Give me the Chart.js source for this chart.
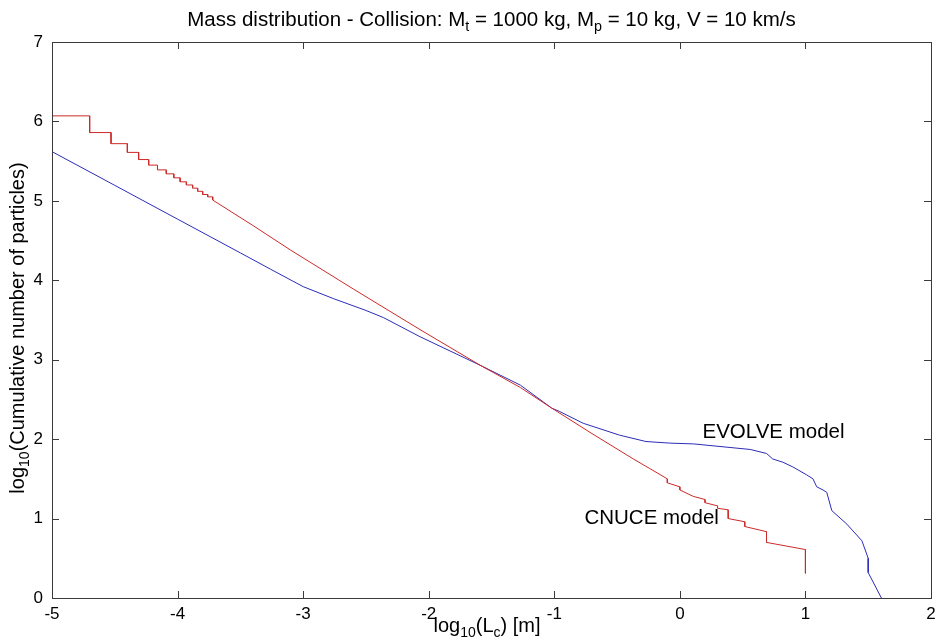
<!DOCTYPE html>
<html>
<head>
<meta charset="utf-8">
<script src="https://cdn.jsdelivr.net/npm/chart.js@4.4.0/dist/chart.umd.min.js"></script>
<style>
  html, body { margin: 0; padding: 0; background: #fff; }
  #wrap { width: 936px; height: 644px; }
</style>
</head>
<body>
<div id="wrap"><canvas id="massChart" width="936" height="644"></canvas></div>
<script>
// CNUCE model (red), corner points of the staircase
const cnuceX = [-5, -4.70, -4.70, -4.53, -4.53, -4.40, -4.40, -4.31, -4.31, -4.23, -4.23, -4.16, -4.16,
  -4.09, -4.09, -4.03, -4.03, -3.98, -3.98, -3.93, -3.93, -3.88, -3.88, -3.84, -3.84, -3.80, -3.80,
  -3.76, -3.76, -3.72, -3.72, -3.40, -3.10, -2.60, -2.07, -1.59, -1.27, -1.02, -0.70, -0.37, -0.24,
  -0.10, -0.10, 0.00, 0.00, 0.106, 0.20, 0.20, 0.30, 0.30, 0.385, 0.385, 0.517, 0.517, 0.69, 0.69, 1.00, 1.00];
const cnuceY = [6.07, 6.07, 5.86, 5.86, 5.72, 5.72, 5.61, 5.61, 5.52, 5.52, 5.45, 5.45, 5.39,
  5.39, 5.34, 5.34, 5.29, 5.29, 5.24, 5.24, 5.20, 5.20, 5.16, 5.16, 5.12, 5.12, 5.08,
  5.08, 5.05, 5.05, 5.01, 4.69, 4.38, 3.89, 3.38, 2.93, 2.65, 2.39, 2.07, 1.75, 1.63,
  1.50, 1.45, 1.40, 1.36, 1.28, 1.24, 1.20, 1.16, 1.13, 1.11, 1.00, 0.96, 0.90, 0.835, 0.70, 0.61, 0.31];

// EVOLVE model (blue)
const evolveX = [-5, -4.5, -4, -3.5, -3.26, -3.0, -2.76, -2.5, -2.36, -2.07, -1.83, -1.59, -1.27,
  -1.02, -0.96, -0.77, -0.48, -0.27, -0.08, 0.11, 0.56, 0.69, 0.74, 0.82, 0.90, 1.01, 1.06, 1.09,
  1.14, 1.17, 1.21, 1.33, 1.45, 1.50, 1.50, 1.605];
const evolveY = [5.62, 5.195, 4.77, 4.345, 4.14, 3.92, 3.77, 3.62, 3.53, 3.29, 3.11, 2.93, 2.68,
  2.39, 2.35, 2.20, 2.05, 1.97, 1.95, 1.94, 1.87, 1.82, 1.75, 1.71, 1.65, 1.55, 1.50, 1.40,
  1.36, 1.33, 1.10, 0.93, 0.72, 0.50, 0.32, 0.0];

const xRange = [-5, 2];
const yRange = [0, 7];

// text labels inside the axes (data coordinates of left edge / middle)
const modelLabels = [
  { text: 'EVOLVE model', x: 0.18, y: 2.09 },
  { text: 'CNUCE model', x: -0.76, y: 1.0 },
];

const FONT = '"Liberation Sans", Arial, Helvetica, sans-serif';

function toPoints(xs, ys) {
  return xs.map((v, i) => ({ x: v, y: ys[i] }));
}

// draws a list of segments, some of them as subscripts
function richWidth(ctx, parts, size) {
  let w = 0;
  parts.forEach(p => {
    ctx.font = (p.sub ? size * 0.7 : size) + 'px ' + FONT;
    w += ctx.measureText(p.t).width;
  });
  return w;
}
function drawRich(ctx, parts, cx, cy, size) {
  let x = cx - richWidth(ctx, parts, size) / 2;
  ctx.textBaseline = 'middle';
  ctx.textAlign = 'left';
  parts.forEach(p => {
    ctx.font = (p.sub ? size * 0.7 : size) + 'px ' + FONT;
    ctx.fillText(p.t, x, p.sub ? cy + size * 0.35 : cy);
    x += ctx.measureText(p.t).width;
  });
}

const framePlugin = {
  id: 'matlabFrame',
  afterDraw(chart) {
    const { ctx, chartArea: a, scales } = chart;
    const xs = scales.x, ys = scales.y;
    ctx.save();
    ctx.strokeStyle = '#3a3a3a';
    ctx.lineWidth = 1;
    ctx.strokeRect(Math.round(a.left) + 0.5, Math.round(a.top) + 0.5,
      Math.round(a.right - a.left), Math.round(a.bottom - a.top));

    // inward ticks on all four sides
    const tl = 7;
    ctx.beginPath();
    xs.ticks.forEach(t => {
      const px = Math.round(xs.getPixelForValue(t.value)) + 0.5;
      ctx.moveTo(px, a.bottom); ctx.lineTo(px, a.bottom - tl);
      ctx.moveTo(px, a.top); ctx.lineTo(px, a.top + tl);
    });
    ys.ticks.forEach(t => {
      const py = Math.round(ys.getPixelForValue(t.value)) + 0.5;
      ctx.moveTo(a.left, py); ctx.lineTo(a.left + tl, py);
      ctx.moveTo(a.right, py); ctx.lineTo(a.right - tl, py);
    });
    ctx.stroke();

    ctx.fillStyle = '#000';
    // title
    drawRich(ctx, [
      { t: 'Mass distribution - Collision: M' }, { t: 't', sub: true },
      { t: ' = 1000 kg, M' }, { t: 'p', sub: true }, { t: ' = 10 kg, V = 10 km/s' }
    ], (a.left + a.right) / 2, 20, 20.5);

    // x axis title
    drawRich(ctx, [
      { t: 'log' }, { t: '10', sub: true }, { t: '(L' }, { t: 'c', sub: true }, { t: ') [m]' }
    ], 487, 626, 20);

    // y axis title
    ctx.save();
    ctx.translate(18, 328);
    ctx.rotate(-Math.PI / 2);
    drawRich(ctx, [
      { t: 'log' }, { t: '10', sub: true }, { t: '(Cumulative number of particles)' }
    ], 0, 0, 20);
    ctx.restore();

    // model labels
    ctx.font = '20.5px ' + FONT;
    ctx.textAlign = 'left';
    ctx.textBaseline = 'middle';
    modelLabels.forEach(l => {
      ctx.fillText(l.text, xs.getPixelForValue(l.x), ys.getPixelForValue(l.y));
    });
    ctx.restore();
  }
};

new Chart(document.getElementById('massChart'), {
  type: 'scatter',
  data: {
    datasets: [
      {
        label: 'CNUCE model',
        data: toPoints(cnuceX, cnuceY),
        showLine: true,
        borderColor: '#cc2a2a',
        borderWidth: 1,
        pointRadius: 0,
        tension: 0,
      },
      {
        label: 'EVOLVE model',
        data: toPoints(evolveX, evolveY),
        showLine: true,
        borderColor: '#2c2cb8',
        borderWidth: 1,
        pointRadius: 0,
        tension: 0,
      },
    ],
  },
  options: {
    responsive: false,
    animation: false,
    devicePixelRatio: 1,
    layout: { padding: { top: 42, right: 5, left: 0, bottom: 0 } },
    plugins: {
      legend: { display: false },
      tooltip: { enabled: false },
    },
    scales: {
      x: {
        type: 'linear',
        min: xRange[0],
        max: xRange[1],
        grid: { display: false, drawTicks: false },
        border: { display: false },
        ticks: {
          stepSize: 1,
          color: '#000',
          padding: 6,
          font: { family: FONT, size: 17 },
        },
        afterFit(scale) {
          scale.height = 46;
          scale.paddingLeft = 0;
          scale.paddingRight = 0;
        },
      },
      y: {
        type: 'linear',
        min: yRange[0],
        max: yRange[1],
        grid: { display: false, drawTicks: false },
        border: { display: false },
        ticks: {
          stepSize: 1,
          color: '#000',
          padding: 9,
          font: { family: FONT, size: 17 },
        },
        afterFit(scale) {
          scale.width = 52;
          scale.paddingTop = 0;
          scale.paddingBottom = 0;
        },
      },
    },
  },
  plugins: [framePlugin],
});
</script>
</body>
</html>
